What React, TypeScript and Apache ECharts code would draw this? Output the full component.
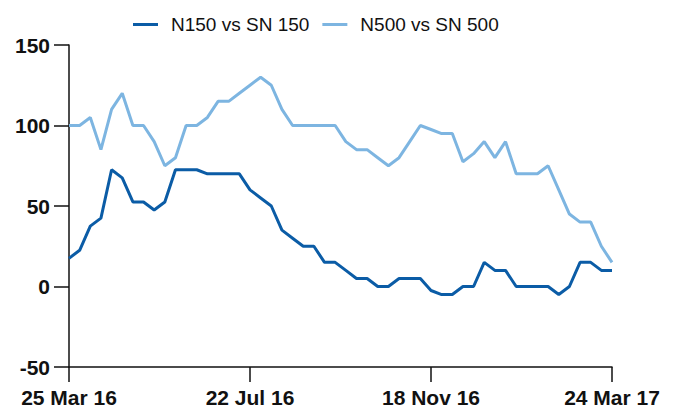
import React, { useEffect, useRef } from "react";
import * as echarts from "echarts";

const categories: string[] = [
  "25 Mar 16", "1 Apr 16", "8 Apr 16", "15 Apr 16", "22 Apr 16", "29 Apr 16",
  "6 May 16", "13 May 16", "20 May 16", "27 May 16", "3 Jun 16", "10 Jun 16",
  "17 Jun 16", "24 Jun 16", "1 Jul 16", "8 Jul 16", "15 Jul 16", "22 Jul 16",
  "29 Jul 16", "5 Aug 16", "12 Aug 16", "19 Aug 16", "26 Aug 16", "2 Sep 16",
  "9 Sep 16", "16 Sep 16", "23 Sep 16", "30 Sep 16", "7 Oct 16", "14 Oct 16",
  "21 Oct 16", "28 Oct 16", "4 Nov 16", "11 Nov 16", "18 Nov 16", "25 Nov 16",
  "2 Dec 16", "9 Dec 16", "16 Dec 16", "23 Dec 16", "6 Jan 17", "13 Jan 17",
  "20 Jan 17", "27 Jan 17", "3 Feb 17", "10 Feb 17", "17 Feb 17", "24 Feb 17",
  "3 Mar 17", "10 Mar 17", "17 Mar 17", "24 Mar 17",
];

const n150: number[] = [
  17.5, 22.5, 37.5, 42.5, 72.5, 67.5, 52.5, 52.5, 47.5, 52.5,
  72.5, 72.5, 72.5, 70, 70, 70, 70, 60, 55, 50,
  35, 30, 25, 25, 15, 15, 10, 5, 5, 0,
  0, 5, 5, 5, -2.5, -5, -5, 0, 0, 15,
  10, 10, 0, 0, 0, 0, -5, 0, 15, 15,
  10, 10,
];

const n500: number[] = [
  100, 100, 105, 85, 110, 120, 100, 100, 90, 75,
  80, 100, 100, 105, 115, 115, 120, 125, 130, 125,
  110, 100, 100, 100, 100, 100, 90, 85, 85, 80,
  75, 80, 90, 100, 97.5, 95, 95, 77.5, 82.5, 90,
  80, 90, 70, 70, 70, 75, 60, 45, 40, 40,
  25, 15,
];

const seriesNames = ["N150 vs SN 150", "N500 vs SN 500"];
const yTicks = { min: -50, max: 150, interval: 50 };

const FONT = "'Liberation Sans', Arial, sans-serif";

export default function App() {
  const ref = useRef<HTMLDivElement>(null);
  useEffect(() => {
    if (!ref.current) return;
    const chart = echarts.init(ref.current, null, { renderer: "svg" });
    chart.setOption({
      animation: false,
      backgroundColor: "#ffffff",
      legend: {
        left: 128,
        top: 10,
        itemWidth: 25,
        itemHeight: 3,
        itemGap: 13,
        icon: "rect",
        textStyle: {
          fontFamily: FONT,
          fontSize: 19,
          color: "#111111",
          padding: [0, 0, 0, 8],
        },
        data: seriesNames,
      },
      grid: { left: 69, right: 65, top: 45, bottom: 43 },
      xAxis: {
        type: "category",
        data: categories,
        boundaryGap: false,
        axisLine: { onZero: false, lineStyle: { color: "#111111", width: 1.5 } },
        axisTick: { interval: 16, length: 15, lineStyle: { color: "#111111", width: 1.5 } },
        axisLabel: {
          interval: 16,
          margin: 20,
          fontFamily: FONT,
          fontWeight: "bold",
          fontSize: 21,
          color: "#111111",
        },
        splitLine: { show: false },
      },
      yAxis: {
        type: "value",
        min: yTicks.min,
        max: yTicks.max,
        interval: yTicks.interval,
        axisLine: { show: true, lineStyle: { color: "#111111", width: 1.5 } },
        axisTick: { show: true, length: 15, lineStyle: { color: "#111111", width: 1.5 } },
        axisLabel: {
          margin: 19,
          fontFamily: FONT,
          fontWeight: "bold",
          fontSize: 21,
          color: "#111111",
        },
        splitLine: { show: false },
      },
      series: [
        {
          name: seriesNames[0],
          type: "line",
          data: n150,
          showSymbol: false,
          symbol: "none",
          color: "#0b5ca6",
          lineStyle: { width: 3, color: "#0b5ca6" },
        },
        {
          name: seriesNames[1],
          type: "line",
          data: n500,
          showSymbol: false,
          symbol: "none",
          color: "#7db5e1",
          lineStyle: { width: 3, color: "#7db5e1" },
        },
      ],
    });
    return () => chart.dispose();
  }, []);
  return (
    <div
      ref={ref}
      style={{ position: "fixed", left: 0, top: 0, width: 677, height: 410 }}
    />
  );
}
